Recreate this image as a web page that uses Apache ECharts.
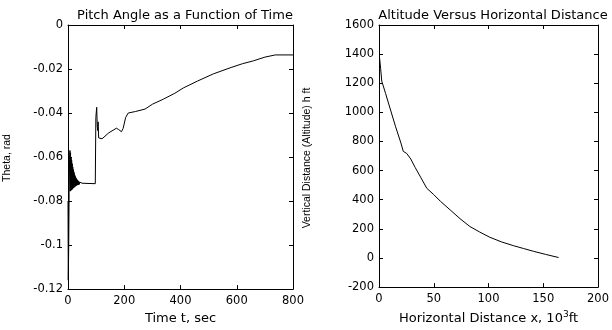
<!DOCTYPE html>
<html>
<head>
<meta charset="utf-8">
<script src="https://cdn.jsdelivr.net/npm/echarts@6/dist/echarts.min.js"></script>
<style>html,body{margin:0;padding:0;background:#fff;}#c{width:612px;height:330px;}</style>
</head>
<body>
<div id="c"></div>
<script>
// ---- Left chart: Pitch angle vs time ----
const pitchTitle = "Pitch Angle as a Function of Time";
const pitchXName = "Time t, sec";
const pitchYName = "Theta, rad";
const pitchXTicks = [0, 200, 400, 600, 800];
const pitchYTicks = [-0.12, -0.1, -0.08, -0.06, -0.04, -0.02, 0];
const timeSec = [0, 1, 2.5, 4, 6, 7, 8, 9, 10, 11, 12, 13, 14, 15, 16, 17, 18, 19, 20, 21, 22, 23, 24, 25, 26, 27, 28, 29, 30, 31, 32, 33, 34, 35, 36, 37, 38, 39, 40, 42, 44, 46, 48, 50, 55, 97, 99, 102, 104, 106, 107, 109, 115, 121, 145, 172, 180, 190, 196, 205, 214, 240, 274, 300, 339, 380, 410, 460, 517, 580, 620, 659, 700, 737, 800];
const thetaRad = [-0.08, -0.116, -0.1, -0.076, -0.058, -0.057, -0.0755, -0.058, -0.0752, -0.06, -0.075, -0.0615, -0.0748, -0.063, -0.0745, -0.0645, -0.0742, -0.0657, -0.074, -0.0667, -0.0737, -0.0676, -0.0735, -0.0684, -0.0733, -0.069, -0.0731, -0.0696, -0.0729, -0.07, -0.0728, -0.0704, -0.0727, -0.0707, -0.0726, -0.071, -0.0725, -0.0712, -0.0724, -0.0714, -0.0723, -0.0717, -0.0722, -0.0719, -0.0721, -0.0721, -0.042, -0.0374, -0.046, -0.048, -0.044, -0.0513, -0.0519, -0.0517, -0.049, -0.0469, -0.0475, -0.0485, -0.047, -0.042, -0.040, -0.0393, -0.0382, -0.036, -0.0337, -0.031, -0.0286, -0.0255, -0.0222, -0.0193, -0.0176, -0.0163, -0.0146, -0.0136, -0.0136];

// ---- Right chart: Altitude vs horizontal distance ----
const altTitle = "Altitude Versus Horizontal Distance";
const altYName = "Vertical Distance (Altitude) h ft";
const altXTicks = [0, 50, 100, 150, 200];
const altYTicks = [-200, 0, 200, 400, 600, 800, 1000, 1200, 1400, 1600];
const distK = [0.5, 1.5, 2.5, 6, 10, 15, 20, 22.2, 25.3, 29, 33, 38, 43.6, 50, 56, 65, 74, 83, 92, 101, 112, 123, 132, 141, 152, 164];
const altFt = [1375, 1300, 1215, 1130, 1030, 905, 790, 732, 718, 680, 622, 555, 479, 435, 390, 330, 270, 216, 178, 143, 110, 84, 65, 46, 25, 3];

const FONT = "DejaVu Sans";
const fmt = v => String(parseFloat(Number(v).toFixed(4)));

function axisPair(gridIndex, ticks, isX, showLabels, position, name, nameOpts) {
  const min = ticks[0], max = ticks[ticks.length - 1];
  const ax = {
    type: 'value', gridIndex, min, max, interval: ticks[1] - ticks[0], position,
    axisLine: { show: true, onZero: false, lineStyle: { color: '#000', width: 1 } },
    axisTick: { show: true, inside: true, length: 4, lineStyle: { color: '#000' } },
    splitLine: { show: false },
    axisLabel: { show: showLabels, color: '#000', fontFamily: FONT, fontSize: 11.5, margin: isX ? 6 : 5, formatter: fmt }
  };
  if (name) Object.assign(ax, { name }, nameOpts);
  return ax;
}

const chart = echarts.init(document.getElementById('c'), null, { renderer: 'canvas' });
chart.setOption({
  animation: false,
  backgroundColor: '#fff',
  title: [
    { text: pitchTitle, left: 180, top: 4, textAlign: 'center',
      textStyle: { fontFamily: FONT, fontSize: 13, fontWeight: 'normal', color: '#000' } },
    { text: altTitle, left: 488, top: 4, textAlign: 'center',
      textStyle: { fontFamily: FONT, fontSize: 13, fontWeight: 'normal', color: '#000' } }
  ],
  grid: [
    { left: 68, top: 25, width: 225, height: 273, show: false },
    { left: 379, top: 25, width: 219, height: 273, show: false }
  ],
  xAxis: [
    axisPair(0, pitchXTicks, true, true, 'bottom', pitchXName,
      { nameLocation: 'middle', nameGap: 21, nameTextStyle: { fontFamily: FONT, fontSize: 13, color: '#000' } }),
    axisPair(0, pitchXTicks, true, false, 'top'),
    axisPair(1, altXTicks, true, true, 'bottom', '{a|Horizontal Distance x, 10}{s|3}{a|ft}',
      { nameLocation: 'middle', nameGap: 21, nameTextStyle: { rich: {
        a: { fontFamily: FONT, fontSize: 13, color: '#000' },
        s: { fontFamily: FONT, fontSize: 9, color: '#000', verticalAlign: 'bottom', padding: [0, 0, 8, 0] } } } }),
    axisPair(1, altXTicks, true, false, 'top')
  ],
  yAxis: [
    axisPair(0, pitchYTicks, false, true, 'left'),
    axisPair(0, pitchYTicks, false, false, 'right'),
    axisPair(1, altYTicks, false, true, 'left'),
    axisPair(1, altYTicks, false, false, 'right')
  ],
  graphic: [
    { type: 'text', x: 7, y: 158, rotation: Math.PI / 2,
      style: { text: pitchYName, fontFamily: 'Liberation Sans', fontSize: 10.5, fill: '#000', align: 'center', verticalAlign: 'middle' } },
    { type: 'text', x: 307, y: 158, rotation: Math.PI / 2,
      style: { text: altYName, fontFamily: 'Liberation Sans', fontSize: 10.5, fill: '#000', align: 'center', verticalAlign: 'middle' } }
  ],
  series: [
    { type: 'line', xAxisIndex: 0, yAxisIndex: 0, showSymbol: false, symbol: 'none',
      lineStyle: { color: '#000', width: 1 }, data: timeSec.map((t, i) => [t, thetaRad[i]]) },
    { type: 'line', xAxisIndex: 2, yAxisIndex: 2, showSymbol: false, symbol: 'none',
      lineStyle: { color: '#000', width: 1 }, data: distK.map((x, i) => [x, altFt[i]]) }
  ]
});
</script>
</body>
</html>
